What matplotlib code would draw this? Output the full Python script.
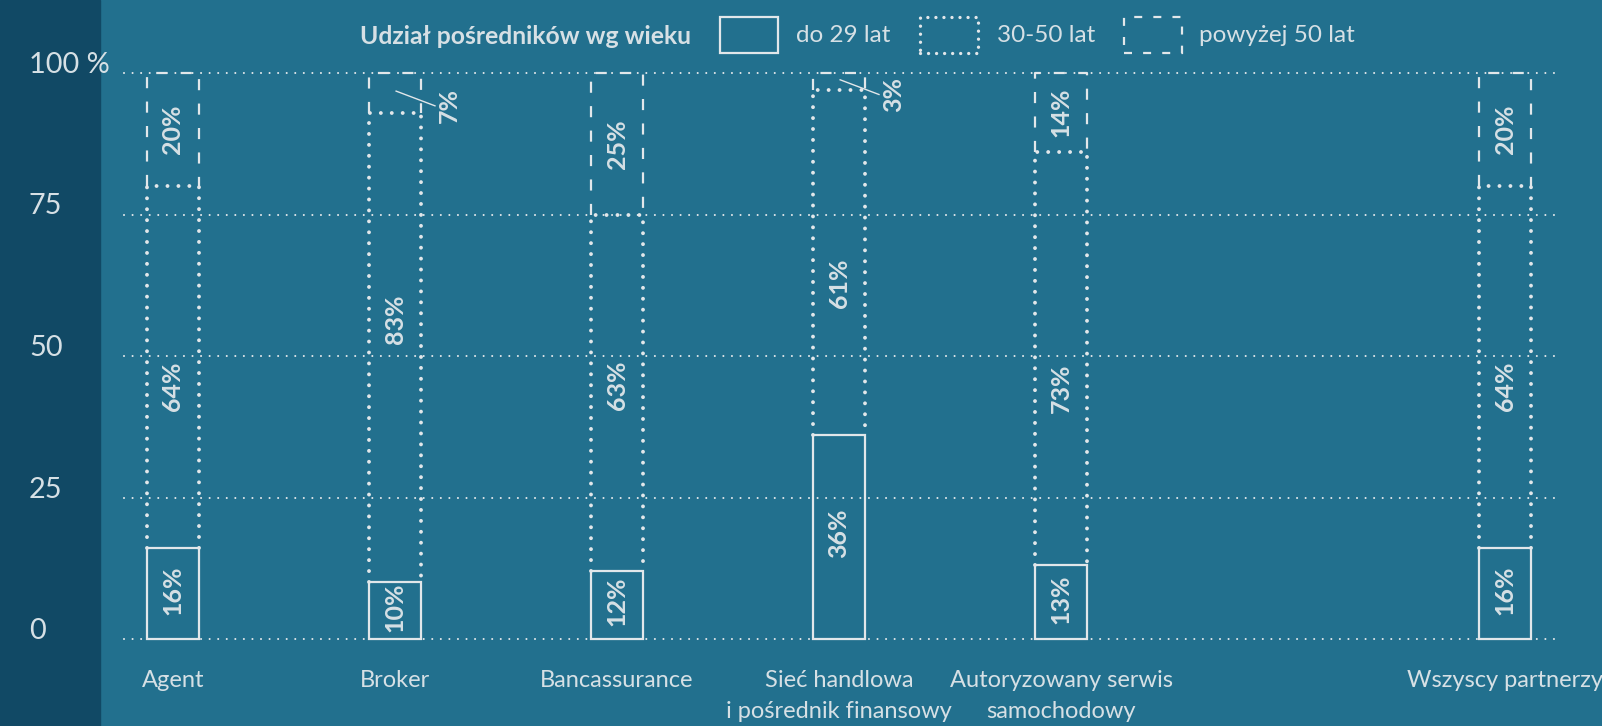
import matplotlib.pyplot as plt
from matplotlib.patches import Rectangle

# Dane
categories = ['Agent', 'Broker', 'Bancassurance', 'Sieć handlowa\ni pośrednik finansowy',
              'Autoryzowany serwis\nsamochodowy', 'Wszyscy partnerzy']
positions = [0, 1, 2, 3, 4, 6]
do_29 = [16, 10, 12, 36, 13, 16]
od_30_do_50 = [64, 83, 63, 61, 73, 64]
powyzej_50 = [20, 7, 25, 3, 14, 20]
y_ticks = [0, 25, 50, 75, 100]
y_tick_labels = ['0', '25', '50', '75', '100 %']
legend_title = 'Udział pośredników wg wieku'
legend_labels = ['do 29 lat', '30-50 lat', 'powyżej 50 lat']

# gdzie stoja etykiety srodkowego segmentu (jak w oryginale, nie zawsze w srodku)
mid_label_y = [44.7, 56.5, 44.8, 62.9, 44.3, 44.7]

BG = '#22708e'
DARK = '#114965'
LINE = '#e2e7ea'
TEXT = '#d6e0e5'
W = 0.235

plt.rcParams['font.family'] = ['Lato', 'DejaVu Sans']

fig = plt.figure(figsize=(16.02, 7.26), dpi=100, facecolor=BG)
fig.add_artist(Rectangle((0, 0), 100 / 1602, 1, transform=fig.transFigure,
                         color=DARK, zorder=-1))

ax = fig.add_axes([124 / 1602, 1 - 639 / 726, (1555 - 124) / 1602, (639 - 73) / 726])
ax.set_facecolor('none')
ax.set_xlim(-0.2207, 6.225)
ax.set_ylim(0, 100)
for s in ax.spines.values():
    s.set_visible(False)

# siatka
for t in y_ticks:
    ax.axhline(t, color=LINE, lw=1.5, linestyle=(0, (0.01, 4.1)),
               dash_capstyle='round', zorder=1, clip_on=False)

ax.set_yticks(y_ticks)
ax.set_yticklabels(y_tick_labels, ha='left', va='baseline', fontsize=20.8,
                   color=TEXT)
ax.tick_params(axis='y', length=0, pad=68.4)

ax.set_xticks(positions)
ax.set_xticklabels(categories, fontsize=17, color=TEXT, linespacing=1.6)
ax.tick_params(axis='x', length=0, pad=22)


def open_box(x, bottom, top, **kw):
    xs = [x - W / 2, x - W / 2, x + W / 2, x + W / 2]
    ys = [bottom, top, top, bottom]
    ax.plot(xs, ys, color=LINE, clip_on=False, **kw)


# do 29 lat - ciagla ramka
ax.bar(positions, do_29, width=W, fill=False, edgecolor=LINE, linewidth=1.6,
       zorder=4, clip_on=False)

for i, x in enumerate(positions):
    b1 = do_29[i]
    b2 = do_29[i] + od_30_do_50[i]
    top = b2 + powyzej_50[i]
    open_box(x, b1, b2, lw=2.8, linestyle=(0, (0.01, 2.8)), dash_capstyle='round', zorder=3)
    open_box(x, b2, top, lw=1.6, linestyle=(0, (5.0, 6.0)), dash_capstyle='butt', zorder=2)

    lbl = dict(rotation=90, ha='center', va='center', fontsize=18,
               fontweight='bold', color=TEXT, zorder=5)
    ax.text(x, b1 / 2 + 0.6, f'{do_29[i]}%', **lbl)
    ax.text(x, mid_label_y[i], f'{od_30_do_50[i]}%', **lbl)
    if powyzej_50[i] >= 10:
        ax.text(x, (b2 + top) / 2, f'{powyzej_50[i]}%', **lbl)
    else:
        mid = (b2 + top) / 2
        ax.plot([x + 0.005, x + 0.18], [mid + 0.3, mid - 2.3], color=LINE, lw=1.0,
                zorder=6, clip_on=False)
        ax.text(x + 0.245, mid - 2.3, f'{powyzej_50[i]}%', **lbl)

# legenda
def fx(px):
    return px / 1602


def fy(py):
    return 1 - py / 726


fig.text(fx(360), fy(36), legend_title, fontsize=17.8, fontweight='bold', color=TEXT,
         ha='left', va='center')
boxes = [(720, dict(linestyle='-', lw=1.6)),
         (920, dict(linestyle=(0, (0.01, 2.4)), lw=2.4, capstyle='round')),
         (1124, dict(linestyle=(0, (3.6, 5.0)), lw=1.6))]
text_x = [796, 997, 1199]
for (bx, st), tx, lab in zip(boxes, text_x, legend_labels):
    fig.add_artist(Rectangle((fx(bx), fy(53)), fx(58), 36 / 726, transform=fig.transFigure,
                             fill=False, edgecolor=LINE, **st))
    fig.text(fx(tx), fy(36), lab, fontsize=17.5, color=TEXT,
             ha='left', va='center')

plt.savefig('out.png', dpi=100, facecolor=BG)
